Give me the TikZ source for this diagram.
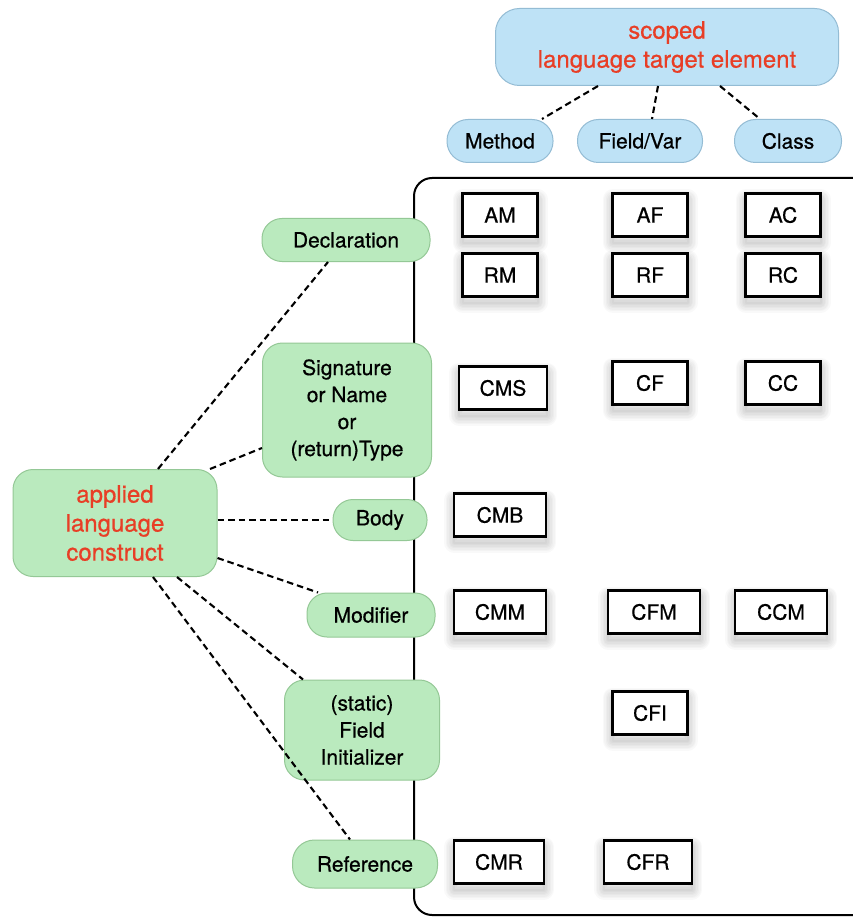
\documentclass[tikz,border=0pt]{standalone}
\usepackage{fontspec}
\setmainfont{TeX Gyre Heros}[FakeBold=0.6]
\definecolor{pillgreen}{RGB}{186,234,190}
\definecolor{pillgreenline}{RGB}{148,200,150}
\definecolor{pillblue}{RGB}{190,226,246}
\definecolor{pillblueline}{RGB}{148,188,212}
\definecolor{headred}{RGB}{232,62,38}
\tikzset{
  construct/.style={draw=pillgreenline, line width=1pt, fill=pillgreen, rounded corners=20pt,
    align=center, inner sep=0pt, font=\fontsize{21}{27}\selectfont},
  target/.style={draw=pillblueline, line width=1pt, fill=pillblue, rounded corners=21pt,
    align=center, inner sep=0pt, font=\fontsize{21}{27}\selectfont, minimum height=43pt},
  shadowring/.style={preaction={draw=black, draw opacity=0.022, line width=#1, line join=round,
    transform canvas={yshift=-6pt}}},
  softshadow/.style={shadowring=20pt, shadowring=17pt, shadowring=14pt, shadowring=11pt,
    shadowring=8pt, shadowring=5pt, shadowring=2pt},
  refactor/.style={softshadow, draw=black, line width=2.2pt, fill=white, inner sep=0pt,
    minimum height=43pt, font=\fontsize{21}{25}\selectfont},
  link/.style={draw=black, line width=2.1pt, dash pattern=on 6.5pt off 4pt},
  heading/.style={text=headred, font=\fontsize{24}{29}\selectfont}
}
\begin{document}
\begin{tikzpicture}[x=1pt, y=-1pt]
\useasboundingbox (0,0) rectangle (852,917);
\fill[white] (0,0) rectangle (852,917);

% frame holding the refactoring kinds
\draw[line width=2pt, rounded corners=18pt] (860,178) -- (414,178) -- (414,915) -- (860,915);

% target elements
\node[target, heading, minimum width=343pt, minimum height=77pt, rounded corners=24pt]
  (scoped) at (667,47) {scoped\\language target element};
\node[target, minimum width=106pt] (method) at (500,141) {Method};
\node[target, minimum width=125pt] (field) at (640,141) {Field/Var};
\node[target, minimum width=107pt] (class) at (788,141) {Class};

% language constructs
\node[construct, heading, minimum width=204pt, minimum height=107pt] (applied) at (115,523)
  {applied\\language\\construct};
\node[construct, minimum width=168pt, minimum height=43pt] (decl) at (346,240) {Declaration};
\node[construct, minimum width=169pt, minimum height=134pt] (sig) at (347,410)
  {Signature\\or Name\\or\\(return)Type};
\node[construct, minimum width=94pt, minimum height=41pt] (body) at (380,520) {Body};
\node[construct, minimum width=128pt, minimum height=44pt] (mod) at (371,615) {Modifier};
\node[construct, minimum width=155pt, minimum height=100pt] (finit) at (362,730)
  {(static)\\Field\\Initializer};
\node[construct, minimum width=145pt, minimum height=48pt, rounded corners=22pt] (ref) at (365,864) {Reference};

% refactoring kinds
\node[refactor, minimum width=75pt] (AM) at (500,215) {AM};
\node[refactor, minimum width=75pt] (RM) at (500,275) {RM};
\node[refactor, minimum width=75pt] (AF) at (650,215) {AF};
\node[refactor, minimum width=75pt] (RF) at (650,275) {RF};
\node[refactor, minimum width=75pt] (AC) at (783,215) {AC};
\node[refactor, minimum width=75pt] (RC) at (783,275) {RC};
\node[refactor, minimum width=88pt] (CMS) at (503,388) {CMS};
\node[refactor, minimum width=75pt] (CF) at (650,383) {CF};
\node[refactor, minimum width=75pt] (CC) at (783,383) {CC};
\node[refactor, minimum width=92pt] (CMB) at (500,515) {CMB};
\node[refactor, minimum width=92pt] (CMM) at (500,612) {CMM};
\node[refactor, minimum width=92pt] (CFM) at (654,612) {CFM};
\node[refactor, minimum width=92pt] (CCM) at (781,612) {CCM};
\node[refactor, minimum width=75pt] (CFI) at (650,713) {CFI};
\node[refactor, minimum width=90pt] (CMR) at (499,862) {CMR};
\node[refactor, minimum width=88pt] (CFR) at (648,862) {CFR};

% dashed links
\draw[link] ([xshift=-69pt]scoped.south) -- ([xshift=42pt]method.north);
\draw[link] ([xshift=-9pt]scoped.south) -- ([xshift=12pt]field.north);
\draw[link] ([xshift=53pt]scoped.south) -- ([xshift=-28pt]class.north);

\draw[link] ([xshift=43pt]applied.north) -- ([xshift=-18pt]decl.south);
\draw[link] ([xshift=95pt]applied.north) -- ([yshift=-38pt]sig.west);
\draw[link] (body.west -| applied.east) -- (body.west);
\draw[link] ([yshift=-35pt]applied.east) -- ([xshift=-53pt]mod.north);
\draw[link] ([xshift=62pt]applied.south) -- ([xshift=-59pt]finit.north);
\draw[link] ([xshift=38pt]applied.south) -- ([xshift=-15pt]ref.north);
\end{tikzpicture}
\end{document}
